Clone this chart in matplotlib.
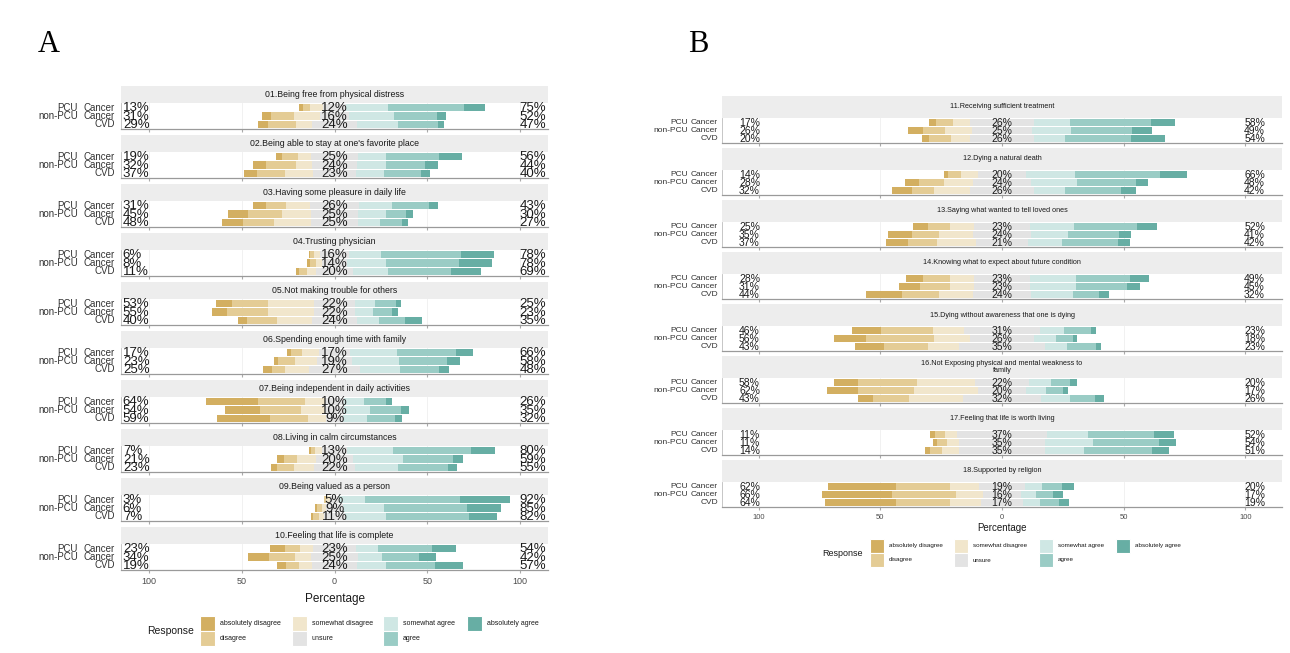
import numpy as np
import matplotlib.pyplot as plt
from matplotlib.patches import Rectangle
from matplotlib import transforms

W, H = 1290, 653

levels = ['absolutely disagree', 'disagree', 'somewhat disagree', 'unsure',
          'somewhat agree', 'agree', 'absolutely agree']
colors = ['#D3AF61', '#E4CC95', '#F1E6CC', '#E3E3E3', '#CFE7E4', '#9ACCC5', '#67AEA4']
groups = [('PCU', 'Cancer'), ('non-PCU', 'Cancer'), ('', 'CVD')]

# percentages per group (PCU Cancer, non-PCU Cancer, CVD), one column per response level
q01 = [[2, 4, 7, 12, 23, 41, 11], [5, 12, 14, 16, 24, 23, 5], [5, 15, 9, 24, 22, 22, 3]]
q02 = [[3, 9, 7, 25, 15, 29, 12], [7, 16, 9, 24, 16, 21, 7], [7, 15, 15, 23, 15, 20, 5]]
q03 = [[7, 11, 13, 26, 18, 20, 5], [11, 18, 16, 25, 15, 11, 4], [11, 17, 20, 25, 12, 12, 3]]
q04 = [[1, 2, 3, 16, 17, 43, 18], [2, 3, 3, 14, 21, 39, 18], [2, 4, 5, 20, 19, 34, 16]]
q05 = [[9, 19, 25, 22, 11, 11, 3], [8, 22, 25, 22, 10, 10, 3], [5, 16, 19, 24, 12, 14, 9]]
q06 = [[2, 6, 9, 17, 25, 32, 9], [2, 9, 12, 19, 25, 26, 7], [5, 7, 13, 27, 22, 21, 5]]
q07 = [[28, 25, 11, 10, 11, 12, 3], [19, 22, 13, 10, 14, 17, 4], [29, 20, 10, 9, 13, 15, 4]]
q08 = [[1, 2, 4, 13, 25, 42, 13], [4, 7, 10, 20, 27, 27, 5], [3, 9, 11, 22, 23, 27, 5]]
q09 = [[0, 1, 2, 5, 14, 51, 27], [1, 3, 2, 9, 22, 45, 18], [1, 3, 3, 11, 22, 45, 15]]
q10 = [[8, 8, 7, 23, 12, 29, 13], [11, 14, 9, 25, 13, 20, 9], [5, 7, 7, 24, 16, 26, 15]]
q11 = [[3, 7, 7, 26, 15, 33, 10], [6, 9, 11, 25, 16, 25, 8], [3, 9, 8, 26, 13, 27, 14]]
q12 = [[2, 5, 7, 20, 20, 35, 11], [6, 10, 12, 24, 19, 24, 5], [8, 9, 15, 26, 13, 23, 6]]
q13 = [[6, 9, 10, 23, 18, 26, 8], [10, 11, 14, 24, 15, 21, 5], [9, 12, 16, 21, 14, 23, 5]]
q14 = [[7, 11, 10, 23, 19, 22, 8], [9, 12, 10, 23, 19, 21, 5], [15, 15, 14, 24, 17, 11, 4]]
q15 = [[12, 21, 13, 31, 10, 11, 2], [13, 28, 15, 26, 9, 7, 2], [12, 18, 13, 35, 9, 12, 2]]
q16 = [[10, 24, 24, 22, 9, 8, 3], [13, 23, 26, 20, 8, 7, 2], [6, 15, 22, 32, 12, 10, 4]]
q17 = [[2, 4, 5, 37, 17, 27, 8], [2, 4, 5, 35, 20, 27, 7], [2, 5, 7, 35, 16, 28, 7]]
q18 = [[28, 22, 12, 19, 7, 8, 5], [29, 26, 11, 16, 6, 7, 4], [29, 22, 13, 17, 7, 8, 4]]

titles_a = ['01.Being free from physical distress',
            "02.Being able to stay at one's favorite place",
            '03.Having some pleasure in daily life',
            '04.Trusting physician',
            '05.Not making trouble for others',
            '06.Spending enough time with family',
            '07.Being independent in daily activities',
            '08.Living in calm circumstances',
            '09.Being valued as a person',
            '10.Feeling that life is complete']
titles_b = ['11.Receiving sufficient treatment',
            '12.Dying a natural death',
            '13.Saying what wanted to tell loved ones',
            '14.Knowing what to expect about future condition',
            '15.Dying without awareness that one is dying',
            '16.Not Exposing physical and mental weakness to\nfamily',
            '17.Feeling that life is worth living',
            '18.Supported by religion']
data_a = [q01, q02, q03, q04, q05, q06, q07, q08, q09, q10]
data_b = [q11, q12, q13, q14, q15, q16, q17, q18]

sans = ['Liberation Sans', 'DejaVu Sans']

fig = plt.figure(figsize=(W / 100, H / 100), dpi=100)


def ax_at(x0, y0, w, h):
    return fig.add_axes([x0 / W, 1 - (y0 + h) / H, w / W, h / H])


def facet(x0, x1, top, strip_h, panel_h, title, rows, s):
    strip = ax_at(x0, top, x1 - x0, strip_h)
    strip.set_facecolor('#EDEDED')
    strip.set_xticks([])
    strip.set_yticks([])
    for sp in strip.spines.values():
        sp.set_visible(False)
    strip.text(0.5, 0.5, title, ha='center', va='center', fontsize=s['strip'],
               family=sans, color='#1A1A1A', linespacing=1.0)

    ax = ax_at(x0, top + strip_h, x1 - x0, panel_h)
    ax.set_xlim(-115, 115)
    ax.set_ylim(-0.55, 2.55)
    for t in (-100, -50, 0, 50, 100):
        ax.axvline(t, color='#EFEFEF', lw=0.6, zorder=0)
    tr = transforms.blended_transform_factory(fig.transFigure, ax.transData)
    for j, row in enumerate(rows):
        y = 2 - j
        dis = sum(row[:3])
        uns = row[3]
        agr = sum(row[4:])
        lefts = -(dis + uns / 2) + np.concatenate([[0], np.cumsum(row)[:-1]])
        ax.barh([y] * 7, row, left=lefts, color=colors, height=0.86, zorder=2)
        ax.text(-s['lab'], y - 0.1, f'{dis}%', ha='left', va='center',
                fontsize=s['pct'], family=sans, color='#1A1A1A', zorder=3)
        ax.text(0, y - 0.1, f'{uns}%', ha='center', va='center',
                fontsize=s['pct'], family=sans, color='#1A1A1A', zorder=3)
        ax.text(s['lab'], y - 0.1, f'{agr}%', ha='right', va='center',
                fontsize=s['pct'], family=sans, color='#1A1A1A', zorder=3)
        g1, g2 = groups[j]
        ax.text(s['g1'] / W, y, g1, transform=tr, ha='right', va='center',
                fontsize=s['grp'], family=sans, color='#333333')
        ax.text(s['g2'] / W, y, g2, transform=tr, ha='right', va='center',
                fontsize=s['grp'], family=sans, color='#333333')
    ax.set_yticks([])
    ax.set_xticks([-100, -50, 0, 50, 100])
    ax.tick_params(axis='x', length=2, color='#AAAAAA', labelsize=s['tick'],
                   labelcolor='#4D4D4D', pad=s['pad'])
    ax.set_xticklabels([])
    for k in ('top', 'right'):
        ax.spines[k].set_visible(False)
    ax.spines['bottom'].set_color('#9A9A9A')
    ax.spines['bottom'].set_linewidth(0.9)
    ax.spines['left'].set_color('#BDBDBD')
    ax.spines['left'].set_linewidth(0.6)
    return ax


def legend(x_resp, y_mid, key_x, key, label_dx, fs, fs_title):
    fig.text(x_resp / W, 1 - y_mid / H, 'Response', ha='left', va='center',
             fontsize=fs_title, family=sans, color='#1A1A1A')
    for i, (lev, col) in enumerate(zip(levels, colors)):
        c, r = divmod(i, 2)
        kx = key_x[c]
        ky = y_mid - key if r == 0 else y_mid
        fig.patches.append(Rectangle((kx / W, 1 - (ky + key) / H), key / W, key / H,
                                     transform=fig.transFigure, facecolor=col,
                                     edgecolor='white', lw=0.8))
        fig.text((kx + key + label_dx) / W, 1 - (ky + key / 2) / H, lev,
                 ha='left', va='center', fontsize=fs, family=sans, color='#1A1A1A')


# panel A
sa = dict(strip=6.3, pct=9.5, grp=7, tick=6.5, lab=114, g1=78, g2=115, pad=3)
for i, (t, rows) in enumerate(zip(titles_a, data_a)):
    ax = facet(121, 548, 86 + 49 * i, 17, 26, t, rows, sa)
ax.set_xticklabels(['100', '50', '0', '50', '100'], family=sans)
ax.set_xlabel('Percentage', fontsize=8.5, family=sans, color='#1A1A1A', labelpad=5)
legend(147, 631, [200, 292, 383, 467], 15, 5, 5, 7.5)

# panel B
sb = dict(strip=5.2, pct=7.5, grp=6, tick=5.5, lab=108, g1=688, g2=718, pad=3)
for i, (t, rows) in enumerate(zip(titles_b, data_b)):
    ax = facet(722, 1282, 96 + 52 * i, 22, 25, t, rows, sb)
ax.set_xticklabels(['100', '50', '0', '50', '100'], family=sans)
ax.set_xlabel('Percentage', fontsize=7, family=sans, color='#1A1A1A', labelpad=1.5)
legend(822, 553, [870, 954, 1039, 1116], 14, 5, 4.5, 6.5)

fig.text(38 / W, 1 - 45 / H, 'A', fontsize=22, family=['Liberation Serif', 'DejaVu Serif'],
         ha='left', va='center')
fig.text(688 / W, 1 - 45 / H, 'B', fontsize=22, family=['Liberation Serif', 'DejaVu Serif'],
         ha='left', va='center')

fig.savefig('out.png', dpi=100, facecolor='white')
